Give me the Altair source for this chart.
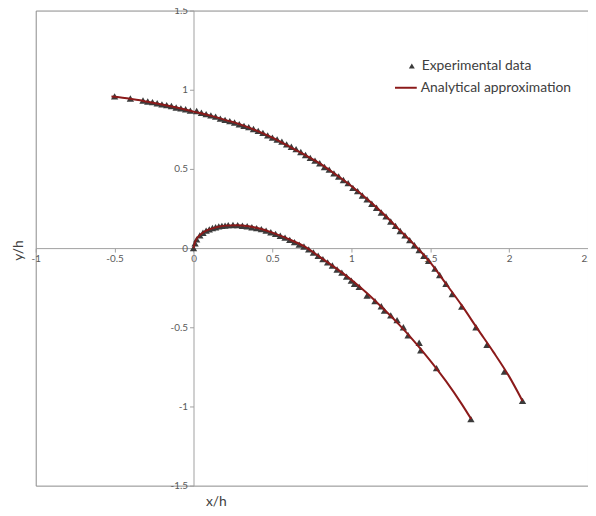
import altair as alt
import pandas as pd

# ---- experimental data (triangles) ----
exp_upper_x = [-0.50, -0.40, -0.32, -0.29, -0.26, -0.23, -0.20, -0.17, -0.14, -0.11, -0.08, -0.05, -0.02,
               0.02, 0.05, 0.08, 0.11, 0.14, 0.17, 0.20, 0.23, 0.26, 0.29, 0.32, 0.35, 0.38, 0.41, 0.44,
               0.47, 0.50, 0.53, 0.56, 0.59, 0.62, 0.65, 0.68, 0.71, 0.74, 0.77, 0.80, 0.83, 0.86, 0.89,
               0.92, 0.95, 0.98, 1.01, 1.04, 1.07, 1.10, 1.13, 1.16, 1.19, 1.22, 1.25, 1.28, 1.31, 1.34,
               1.37, 1.40, 1.43, 1.46, 1.49, 1.53, 1.56, 1.60, 1.64, 1.70, 1.79, 1.86, 1.97, 2.085]
exp_upper_y = [0.958, 0.945, 0.932, 0.926, 0.922, 0.915, 0.908, 0.903, 0.897, 0.888, 0.882, 0.877, 0.868,
               0.866, 0.855, 0.846, 0.838, 0.830, 0.818, 0.810, 0.802, 0.793, 0.782, 0.772, 0.764, 0.752,
               0.740, 0.728, 0.712, 0.698, 0.686, 0.672, 0.655, 0.640, 0.625, 0.607, 0.588, 0.570, 0.552,
               0.536, 0.512, 0.496, 0.472, 0.452, 0.430, 0.410, 0.380, 0.360, 0.332, 0.308, 0.280, 0.255,
               0.225, 0.200, 0.168, 0.140, 0.108, 0.080, 0.050, 0.018, -0.012, -0.048, -0.080, -0.130,
               -0.170, -0.225, -0.290, -0.370, -0.500, -0.610, -0.780, -0.965]

exp_lower_x = [0.00, 0.01, 0.02, 0.04, 0.06, 0.08, 0.10, 0.12, 0.14, 0.16, 0.18, 0.20, 0.22, 0.25, 0.28,
               0.31, 0.34, 0.37, 0.40, 0.43, 0.46, 0.49, 0.52, 0.55, 0.58, 0.61, 0.64, 0.67, 0.70, 0.73,
               0.76, 0.79, 0.82, 0.85, 0.88, 0.91, 0.94, 0.97, 1.00, 1.02, 1.05, 1.10, 1.15, 1.19, 1.21,
               1.25, 1.29, 1.33, 1.36, 1.43, 1.44, 1.54, 1.758]
exp_lower_y = [0.000, 0.030, 0.055, 0.080, 0.097, 0.110, 0.118, 0.127, 0.132, 0.137, 0.140, 0.142, 0.145,
               0.146, 0.145, 0.141, 0.138, 0.132, 0.126, 0.120, 0.110, 0.100, 0.090, 0.078, 0.066, 0.052,
               0.038, 0.022, 0.010, -0.008, -0.028, -0.048, -0.070, -0.090, -0.110, -0.135, -0.155,
               -0.180, -0.205, -0.225, -0.245, -0.300, -0.335, -0.367, -0.395, -0.425, -0.455, -0.500,
               -0.550, -0.598, -0.645, -0.758, -1.080]

# ---- analytical approximation (lines) ----
fit_upper_x = [-0.52, -0.4, -0.3, -0.2, -0.1, 0.0, 0.1, 0.2, 0.3, 0.4, 0.5, 0.6, 0.7, 0.8, 0.9, 1.0,
               1.1, 1.2, 1.3, 1.4, 1.5, 1.6, 1.7, 1.8, 1.9, 2.0, 2.085]
fit_upper_y = [0.957, 0.943, 0.926, 0.907, 0.886, 0.862, 0.838, 0.810, 0.780, 0.742, 0.697, 0.645,
               0.592, 0.535, 0.466, 0.392, 0.310, 0.220, 0.120, 0.020, -0.090, -0.225, -0.362, -0.510,
               -0.655, -0.810, -0.965]

fit_lower_x = [0.0, 0.01, 0.05, 0.1, 0.15, 0.2, 0.275, 0.35, 0.4, 0.5, 0.6, 0.7, 0.8, 0.9, 1.0, 1.1,
               1.2, 1.3, 1.4, 1.5, 1.6, 1.7, 1.76]
fit_lower_y = [0.0, 0.040, 0.090, 0.118, 0.133, 0.142, 0.145, 0.138, 0.128, 0.098, 0.058, 0.012,
               -0.055, -0.125, -0.200, -0.285, -0.380, -0.480, -0.590, -0.710, -0.840, -0.985, -1.080]

x_ticks = [-1, -0.5, 0, 0.5, 1, 1.5, 2, 2.5]
y_ticks = [-1.5, -1, -0.5, 0, 0.5, 1, 1.5]

W, H = 558, 480
FONT = "Lato"

exp_df = pd.DataFrame({
    "x": exp_upper_x + exp_lower_x,
    "y": exp_upper_y + exp_lower_y,
    "exp_label": "Experimental data",
})
fit_df = pd.DataFrame({
    "x": fit_upper_x + fit_lower_x,
    "y": fit_upper_y + fit_lower_y,
    "branch": ["upper"] * len(fit_upper_x) + ["lower"] * len(fit_lower_x),
    "fit_label": "Analytical approximation",
})

x_enc = alt.X(
    "x:Q",
    scale=alt.Scale(domain=[-1, 2.5], nice=False, zero=False),
    axis=alt.Axis(
        values=x_ticks, offset=-H / 2, grid=False,
        labelExpr="datum.value + ''", labelFlush=False, labelOverlap=False,
        title="x/h", titleX=182, titleY=256, titleAlign="center", titleBaseline="middle",
    ),
)
y_enc = alt.Y(
    "y:Q",
    scale=alt.Scale(domain=[-1.5, 1.5], nice=False, zero=False),
    axis=alt.Axis(
        values=y_ticks, offset=-W / 3.5, grid=False,
        labelExpr="datum.value + ''", labelFlush=False, labelOverlap=False,
        title="y/h", titleX=-177, titleY=242, titleAlign="center", titleBaseline="middle",
    ),
)

points = alt.Chart(exp_df).mark_point(
    filled=True, color="#3b3b3b", size=55, opacity=1
).encode(
    x=x_enc,
    y=y_enc,
    shape=alt.Shape(
        "exp_label:N",
        scale=alt.Scale(domain=["Experimental data"], range=["triangle-up"]),
        legend=alt.Legend(
            orient="none", legendX=373, legendY=49, title=None, padding=0,
            symbolSize=36, symbolFillColor="#3b3b3b", symbolStrokeColor="#3b3b3b",
            labelOffset=3, labelFont=FONT, labelFontSize=14, labelColor="#404040",
        ),
    ),
)

lines = alt.Chart(fit_df).mark_line(
    strokeWidth=2, interpolate="monotone"
).encode(
    x="x:Q",
    y="y:Q",
    detail="branch:N",
    color=alt.Color(
        "fit_label:N",
        scale=alt.Scale(domain=["Analytical approximation"], range=["#8b1a1a"]),
        legend=alt.Legend(
            orient="none", legendX=362, legendY=66, title=None, padding=0,
            symbolType="stroke", symbolSize=484, symbolStrokeWidth=2,
            labelOffset=3, labelFont=FONT, labelFontSize=14, labelColor="#404040",
        ),
    ),
)

chart = alt.layer(points, lines).properties(
    width=W, height=H,
    padding={"left": 28, "top": 0, "right": 0, "bottom": 20},
    autosize=alt.AutoSizeParams(type="none"),
).configure_view(
    stroke="#8a8a8a", strokeWidth=1
).configure_axis(
    domainColor="#a0a0a0", tickColor="#a0a0a0", tickSize=4,
    labelColor="#595959", labelFont=FONT, labelFontSize=10, labelPadding=2,
    titleFont=FONT, titleFontSize=14, titleFontWeight="normal", titleColor="#404040",
)

chart.save("out.html", embed_options={"renderer": "svg", "actions": False})
